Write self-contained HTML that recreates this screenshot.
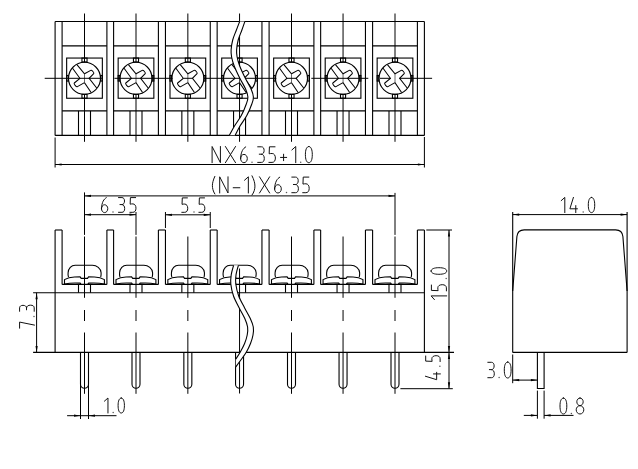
<!DOCTYPE html>
<html><head><meta charset="utf-8"><title>Terminal block drawing</title>
<style>
html,body{margin:0;padding:0;background:#fff;width:638px;height:469px;overflow:hidden;font-family:"Liberation Sans",sans-serif;}
svg{display:block;}
</style></head><body>
<svg width="638" height="469" viewBox="0 0 638 469">
<rect width="638" height="469" fill="#fff"/>
<line x1="55.1" y1="21.45" x2="424.4" y2="21.45" stroke="#000" stroke-width="1.1"/>
<line x1="55.1" y1="135.4" x2="424.4" y2="135.4" stroke="#000" stroke-width="1.1"/>
<line x1="55.1" y1="21.45" x2="55.1" y2="135.4" stroke="#000" stroke-width="1.1"/>
<line x1="424.4" y1="21.45" x2="424.4" y2="135.4" stroke="#000" stroke-width="1.1"/>
<line x1="62.1" y1="21.45" x2="62.1" y2="135.4" stroke="#000" stroke-width="1.1"/>
<line x1="106.9" y1="21.45" x2="106.9" y2="135.4" stroke="#000" stroke-width="1.1"/>
<line x1="62.1" y1="45.9" x2="106.9" y2="45.9" stroke="#000" stroke-width="1.1"/>
<line x1="62.1" y1="110.9" x2="106.9" y2="110.9" stroke="#000" stroke-width="1.1"/>
<rect x="66.65" y="58.05" width="35.7" height="40.2" fill="none" stroke="#000" stroke-width="1.1"/>
<rect x="81.95" y="58.05" width="5.1" height="3.9" fill="none" stroke="#000" stroke-width="1.1"/>
<rect x="81.95" y="94.35" width="5.1" height="3.9" fill="none" stroke="#000" stroke-width="1.1"/>
<rect x="66.65" y="75.5" width="1.6" height="5.6" fill="none" stroke="#000" stroke-width="1.1"/>
<rect x="100.75" y="75.5" width="1.6" height="5.6" fill="none" stroke="#000" stroke-width="1.1"/>
<line x1="78.5" y1="110.9" x2="78.5" y2="135.4" stroke="#000" stroke-width="1.1"/>
<line x1="90.5" y1="110.9" x2="90.5" y2="135.4" stroke="#000" stroke-width="1.1"/>
<line x1="113.6" y1="21.45" x2="113.6" y2="135.4" stroke="#000" stroke-width="1.1"/>
<line x1="158.4" y1="21.45" x2="158.4" y2="135.4" stroke="#000" stroke-width="1.1"/>
<line x1="113.6" y1="45.9" x2="158.4" y2="45.9" stroke="#000" stroke-width="1.1"/>
<line x1="113.6" y1="110.9" x2="158.4" y2="110.9" stroke="#000" stroke-width="1.1"/>
<rect x="118.15" y="58.05" width="35.7" height="40.2" fill="none" stroke="#000" stroke-width="1.1"/>
<rect x="133.45" y="58.05" width="5.1" height="3.9" fill="none" stroke="#000" stroke-width="1.1"/>
<rect x="133.45" y="94.35" width="5.1" height="3.9" fill="none" stroke="#000" stroke-width="1.1"/>
<rect x="118.15" y="75.5" width="1.6" height="5.6" fill="none" stroke="#000" stroke-width="1.1"/>
<rect x="152.25" y="75.5" width="1.6" height="5.6" fill="none" stroke="#000" stroke-width="1.1"/>
<line x1="130" y1="110.9" x2="130" y2="135.4" stroke="#000" stroke-width="1.1"/>
<line x1="142" y1="110.9" x2="142" y2="135.4" stroke="#000" stroke-width="1.1"/>
<line x1="165.45" y1="21.45" x2="165.45" y2="135.4" stroke="#000" stroke-width="1.1"/>
<line x1="210.25" y1="21.45" x2="210.25" y2="135.4" stroke="#000" stroke-width="1.1"/>
<line x1="165.45" y1="45.9" x2="210.25" y2="45.9" stroke="#000" stroke-width="1.1"/>
<line x1="165.45" y1="110.9" x2="210.25" y2="110.9" stroke="#000" stroke-width="1.1"/>
<rect x="170" y="58.05" width="35.7" height="40.2" fill="none" stroke="#000" stroke-width="1.1"/>
<rect x="185.3" y="58.05" width="5.1" height="3.9" fill="none" stroke="#000" stroke-width="1.1"/>
<rect x="185.3" y="94.35" width="5.1" height="3.9" fill="none" stroke="#000" stroke-width="1.1"/>
<rect x="170" y="75.5" width="1.6" height="5.6" fill="none" stroke="#000" stroke-width="1.1"/>
<rect x="204.1" y="75.5" width="1.6" height="5.6" fill="none" stroke="#000" stroke-width="1.1"/>
<line x1="181.85" y1="110.9" x2="181.85" y2="135.4" stroke="#000" stroke-width="1.1"/>
<line x1="193.85" y1="110.9" x2="193.85" y2="135.4" stroke="#000" stroke-width="1.1"/>
<line x1="217.15" y1="21.45" x2="217.15" y2="135.4" stroke="#000" stroke-width="1.1"/>
<line x1="261.95" y1="21.45" x2="261.95" y2="135.4" stroke="#000" stroke-width="1.1"/>
<line x1="217.15" y1="45.9" x2="261.95" y2="45.9" stroke="#000" stroke-width="1.1"/>
<line x1="217.15" y1="110.9" x2="261.95" y2="110.9" stroke="#000" stroke-width="1.1"/>
<rect x="221.7" y="58.05" width="35.7" height="40.2" fill="none" stroke="#000" stroke-width="1.1"/>
<rect x="237" y="58.05" width="5.1" height="3.9" fill="none" stroke="#000" stroke-width="1.1"/>
<rect x="237" y="94.35" width="5.1" height="3.9" fill="none" stroke="#000" stroke-width="1.1"/>
<rect x="221.7" y="75.5" width="1.6" height="5.6" fill="none" stroke="#000" stroke-width="1.1"/>
<rect x="255.8" y="75.5" width="1.6" height="5.6" fill="none" stroke="#000" stroke-width="1.1"/>
<line x1="233.55" y1="110.9" x2="233.55" y2="135.4" stroke="#000" stroke-width="1.1"/>
<line x1="245.55" y1="110.9" x2="245.55" y2="135.4" stroke="#000" stroke-width="1.1"/>
<line x1="269.1" y1="21.45" x2="269.1" y2="135.4" stroke="#000" stroke-width="1.1"/>
<line x1="313.9" y1="21.45" x2="313.9" y2="135.4" stroke="#000" stroke-width="1.1"/>
<line x1="269.1" y1="45.9" x2="313.9" y2="45.9" stroke="#000" stroke-width="1.1"/>
<line x1="269.1" y1="110.9" x2="313.9" y2="110.9" stroke="#000" stroke-width="1.1"/>
<rect x="273.65" y="58.05" width="35.7" height="40.2" fill="none" stroke="#000" stroke-width="1.1"/>
<rect x="288.95" y="58.05" width="5.1" height="3.9" fill="none" stroke="#000" stroke-width="1.1"/>
<rect x="288.95" y="94.35" width="5.1" height="3.9" fill="none" stroke="#000" stroke-width="1.1"/>
<rect x="273.65" y="75.5" width="1.6" height="5.6" fill="none" stroke="#000" stroke-width="1.1"/>
<rect x="307.75" y="75.5" width="1.6" height="5.6" fill="none" stroke="#000" stroke-width="1.1"/>
<line x1="285.5" y1="110.9" x2="285.5" y2="135.4" stroke="#000" stroke-width="1.1"/>
<line x1="297.5" y1="110.9" x2="297.5" y2="135.4" stroke="#000" stroke-width="1.1"/>
<line x1="320.65" y1="21.45" x2="320.65" y2="135.4" stroke="#000" stroke-width="1.1"/>
<line x1="365.45" y1="21.45" x2="365.45" y2="135.4" stroke="#000" stroke-width="1.1"/>
<line x1="320.65" y1="45.9" x2="365.45" y2="45.9" stroke="#000" stroke-width="1.1"/>
<line x1="320.65" y1="110.9" x2="365.45" y2="110.9" stroke="#000" stroke-width="1.1"/>
<rect x="325.2" y="58.05" width="35.7" height="40.2" fill="none" stroke="#000" stroke-width="1.1"/>
<rect x="340.5" y="58.05" width="5.1" height="3.9" fill="none" stroke="#000" stroke-width="1.1"/>
<rect x="340.5" y="94.35" width="5.1" height="3.9" fill="none" stroke="#000" stroke-width="1.1"/>
<rect x="325.2" y="75.5" width="1.6" height="5.6" fill="none" stroke="#000" stroke-width="1.1"/>
<rect x="359.3" y="75.5" width="1.6" height="5.6" fill="none" stroke="#000" stroke-width="1.1"/>
<line x1="337.05" y1="110.9" x2="337.05" y2="135.4" stroke="#000" stroke-width="1.1"/>
<line x1="349.05" y1="110.9" x2="349.05" y2="135.4" stroke="#000" stroke-width="1.1"/>
<line x1="372.6" y1="21.45" x2="372.6" y2="135.4" stroke="#000" stroke-width="1.1"/>
<line x1="417.4" y1="21.45" x2="417.4" y2="135.4" stroke="#000" stroke-width="1.1"/>
<line x1="372.6" y1="45.9" x2="417.4" y2="45.9" stroke="#000" stroke-width="1.1"/>
<line x1="372.6" y1="110.9" x2="417.4" y2="110.9" stroke="#000" stroke-width="1.1"/>
<rect x="377.15" y="58.05" width="35.7" height="40.2" fill="none" stroke="#000" stroke-width="1.1"/>
<rect x="392.45" y="58.05" width="5.1" height="3.9" fill="none" stroke="#000" stroke-width="1.1"/>
<rect x="392.45" y="94.35" width="5.1" height="3.9" fill="none" stroke="#000" stroke-width="1.1"/>
<rect x="377.15" y="75.5" width="1.6" height="5.6" fill="none" stroke="#000" stroke-width="1.1"/>
<rect x="411.25" y="75.5" width="1.6" height="5.6" fill="none" stroke="#000" stroke-width="1.1"/>
<line x1="389" y1="110.9" x2="389" y2="135.4" stroke="#000" stroke-width="1.1"/>
<line x1="401" y1="110.9" x2="401" y2="135.4" stroke="#000" stroke-width="1.1"/>
<line x1="84.5" y1="13.5" x2="84.5" y2="62.3" stroke="#000" stroke-width="1"/>
<line x1="84.5" y1="94.3" x2="84.5" y2="141.8" stroke="#000" stroke-width="1"/>
<line x1="136" y1="13.5" x2="136" y2="62.3" stroke="#000" stroke-width="1"/>
<line x1="136" y1="94.3" x2="136" y2="141.8" stroke="#000" stroke-width="1"/>
<line x1="187.85" y1="13.5" x2="187.85" y2="62.3" stroke="#000" stroke-width="1"/>
<line x1="187.85" y1="94.3" x2="187.85" y2="141.8" stroke="#000" stroke-width="1"/>
<line x1="239.55" y1="13.5" x2="239.55" y2="141.8" stroke="#000" stroke-width="1"/>
<line x1="291.5" y1="13.5" x2="291.5" y2="62.3" stroke="#000" stroke-width="1"/>
<line x1="291.5" y1="94.3" x2="291.5" y2="141.8" stroke="#000" stroke-width="1"/>
<line x1="343.05" y1="13.5" x2="343.05" y2="62.3" stroke="#000" stroke-width="1"/>
<line x1="343.05" y1="94.3" x2="343.05" y2="141.8" stroke="#000" stroke-width="1"/>
<line x1="395" y1="13.5" x2="395" y2="62.3" stroke="#000" stroke-width="1"/>
<line x1="395" y1="94.3" x2="395" y2="141.8" stroke="#000" stroke-width="1"/>
<circle cx="84.5" cy="78.3" r="16" fill="none" stroke="#000" stroke-width="1.1"/>
<path d="M72.58 68.24 L79.9 78.3 L74.3 83 C73.4 83.8 76.4 87.2 77.4 86.6 L84.5 82.6 L91.1 92.44" fill="none" stroke="#000" stroke-width="1.05"/>
<path d="M76.91 64.67 L84.5 73.8 L90.7 70.4 C91.75 69.8 94.55 72.85 93.7 73.7 L89.1 78.3 L96.7 88.02" fill="none" stroke="#000" stroke-width="1.05"/>
<path d="M84.5 73.8 L84.5 82.6" fill="none" stroke="#555" stroke-width="0.9"/>
<circle cx="136" cy="78.3" r="16" fill="none" stroke="#000" stroke-width="1.1"/>
<path d="M124.08 68.24 L131.4 78.3 L125.8 83 C124.9 83.8 127.9 87.2 128.9 86.6 L136 82.6 L142.6 92.44" fill="none" stroke="#000" stroke-width="1.05"/>
<path d="M128.41 64.67 L136 73.8 L142.2 70.4 C143.25 69.8 146.05 72.85 145.2 73.7 L140.6 78.3 L148.2 88.02" fill="none" stroke="#000" stroke-width="1.05"/>
<path d="M136 73.8 L136 82.6" fill="none" stroke="#555" stroke-width="0.9"/>
<circle cx="187.85" cy="78.3" r="16" fill="none" stroke="#000" stroke-width="1.1"/>
<path d="M175.93 68.24 L183.25 78.3 L177.65 83 C176.75 83.8 179.75 87.2 180.75 86.6 L187.85 82.6 L194.45 92.44" fill="none" stroke="#000" stroke-width="1.05"/>
<path d="M180.26 64.67 L187.85 73.8 L194.05 70.4 C195.1 69.8 197.9 72.85 197.05 73.7 L192.45 78.3 L200.05 88.02" fill="none" stroke="#000" stroke-width="1.05"/>
<path d="M187.85 73.8 L187.85 82.6" fill="none" stroke="#555" stroke-width="0.9"/>
<circle cx="239.55" cy="78.3" r="16" fill="none" stroke="#000" stroke-width="1.1"/>
<path d="M227.63 68.24 L234.95 78.3 L229.35 83 C228.45 83.8 231.45 87.2 232.45 86.6 L239.55 82.6 L246.15 92.44" fill="none" stroke="#000" stroke-width="1.05"/>
<path d="M231.96 64.67 L239.55 73.8 L245.75 70.4 C246.8 69.8 249.6 72.85 248.75 73.7 L244.15 78.3 L251.75 88.02" fill="none" stroke="#000" stroke-width="1.05"/>
<path d="M239.55 73.8 L239.55 82.6" fill="none" stroke="#555" stroke-width="0.9"/>
<circle cx="291.5" cy="78.3" r="16" fill="none" stroke="#000" stroke-width="1.1"/>
<path d="M279.58 68.24 L286.9 78.3 L281.3 83 C280.4 83.8 283.4 87.2 284.4 86.6 L291.5 82.6 L298.1 92.44" fill="none" stroke="#000" stroke-width="1.05"/>
<path d="M283.91 64.67 L291.5 73.8 L297.7 70.4 C298.75 69.8 301.55 72.85 300.7 73.7 L296.1 78.3 L303.7 88.02" fill="none" stroke="#000" stroke-width="1.05"/>
<path d="M291.5 73.8 L291.5 82.6" fill="none" stroke="#555" stroke-width="0.9"/>
<circle cx="343.05" cy="78.3" r="16" fill="none" stroke="#000" stroke-width="1.1"/>
<path d="M331.13 68.24 L338.45 78.3 L332.85 83 C331.95 83.8 334.95 87.2 335.95 86.6 L343.05 82.6 L349.65 92.44" fill="none" stroke="#000" stroke-width="1.05"/>
<path d="M335.46 64.67 L343.05 73.8 L349.25 70.4 C350.3 69.8 353.1 72.85 352.25 73.7 L347.65 78.3 L355.25 88.02" fill="none" stroke="#000" stroke-width="1.05"/>
<path d="M343.05 73.8 L343.05 82.6" fill="none" stroke="#555" stroke-width="0.9"/>
<circle cx="395" cy="78.3" r="16" fill="none" stroke="#000" stroke-width="1.1"/>
<path d="M383.08 68.24 L390.4 78.3 L384.8 83 C383.9 83.8 386.9 87.2 387.9 86.6 L395 82.6 L401.6 92.44" fill="none" stroke="#000" stroke-width="1.05"/>
<path d="M387.41 64.67 L395 73.8 L401.2 70.4 C402.25 69.8 405.05 72.85 404.2 73.7 L399.6 78.3 L407.2 88.02" fill="none" stroke="#000" stroke-width="1.05"/>
<path d="M395 73.8 L395 82.6" fill="none" stroke="#555" stroke-width="0.9"/>
<line x1="44.7" y1="78.3" x2="101.9" y2="78.3" stroke="#000" stroke-width="1"/>
<line x1="114.4" y1="78.3" x2="172.7" y2="78.3" stroke="#000" stroke-width="1"/>
<line x1="183.4" y1="78.3" x2="192.6" y2="78.3" stroke="#000" stroke-width="1"/>
<line x1="203.9" y1="78.3" x2="276.4" y2="78.3" stroke="#000" stroke-width="1"/>
<line x1="286.9" y1="78.3" x2="296.1" y2="78.3" stroke="#000" stroke-width="1"/>
<line x1="311.3" y1="78.3" x2="368.3" y2="78.3" stroke="#000" stroke-width="1"/>
<line x1="380" y1="78.3" x2="390.4" y2="78.3" stroke="#000" stroke-width="1"/>
<line x1="399.6" y1="78.3" x2="432.1" y2="78.3" stroke="#000" stroke-width="1"/>
<path d="M239.7 21.4C239.15 22.83 237.57 26.9 236.4 30C235.23 33.1 233.58 36.67 232.7 40C231.82 43.33 231.28 47.17 231.1 50C230.92 52.83 231.08 54.33 231.6 57C232.12 59.67 232.85 62.5 234.2 66C235.55 69.5 237.8 74.17 239.7 78C241.6 81.83 244.23 85.83 245.6 89C246.97 92.17 247.78 94.5 247.9 97C248.02 99.5 247.4 100.9 246.3 104C245.2 107.1 243.27 111.93 241.3 115.6C239.33 119.27 236.48 122.72 234.5 126C232.52 129.28 230.25 133.75 229.4 135.3L235.2 135.3C236 133.75 238.07 129.28 240 126C241.93 122.72 244.83 119.27 246.8 115.6C248.77 111.93 250.7 107.1 251.8 104C252.9 100.9 253.52 99.5 253.4 97C253.28 94.5 252.47 92.17 251.1 89C249.73 85.83 247.1 81.83 245.2 78C243.3 74.17 241.05 69.5 239.7 66C238.35 62.5 237.62 59.67 237.1 57C236.58 54.33 236.42 52.83 236.6 50C236.78 47.17 237.32 43.33 238.2 40C239.08 36.67 240.78 33.1 241.9 30C243.02 26.9 244.4 22.83 244.9 21.4Z" fill="#fff" stroke="none"/>
<path d="M239.7 21.4C239.15 22.83 237.57 26.9 236.4 30C235.23 33.1 233.58 36.67 232.7 40C231.82 43.33 231.28 47.17 231.1 50C230.92 52.83 231.08 54.33 231.6 57C232.12 59.67 232.85 62.5 234.2 66C235.55 69.5 237.8 74.17 239.7 78C241.6 81.83 244.23 85.83 245.6 89C246.97 92.17 247.78 94.5 247.9 97C248.02 99.5 247.4 100.9 246.3 104C245.2 107.1 243.27 111.93 241.3 115.6C239.33 119.27 236.48 122.72 234.5 126C232.52 129.28 230.25 133.75 229.4 135.3" fill="none" stroke="#000" stroke-width="1.1"/>
<path d="M244.9 21.4C244.4 22.83 243.02 26.9 241.9 30C240.78 33.1 239.08 36.67 238.2 40C237.32 43.33 236.78 47.17 236.6 50C236.42 52.83 236.58 54.33 237.1 57C237.62 59.67 238.35 62.5 239.7 66C241.05 69.5 243.3 74.17 245.2 78C247.1 81.83 249.73 85.83 251.1 89C252.47 92.17 253.28 94.5 253.4 97C253.52 99.5 252.9 100.9 251.8 104C250.7 107.1 248.77 111.93 246.8 115.6C244.83 119.27 241.93 122.72 240 126C238.07 129.28 236 133.75 235.2 135.3" fill="none" stroke="#000" stroke-width="1.1"/>
<line x1="55.1" y1="137.5" x2="55.1" y2="167.5" stroke="#000" stroke-width="1"/>
<line x1="424.4" y1="137" x2="424.4" y2="167.5" stroke="#000" stroke-width="1"/>
<line x1="55.1" y1="164.5" x2="424.4" y2="164.5" stroke="#000" stroke-width="1"/>
<path d="M55.1 164.5 L61.6 163.4 L61.6 165.6 Z" fill="#000"/>
<path d="M424.4 164.5 L417.9 165.6 L417.9 163.4 Z" fill="#000"/>
<path transform="translate(212.1 146.5) scale(0.9038 1.0125)" d="M0 16V0L9.2 16V0" fill="none" stroke="#111" stroke-width="1" vector-effect="non-scaling-stroke" stroke-linecap="round" stroke-linejoin="round"/>
<path transform="translate(225.4 146.5) scale(0.9216 1.0125)" d="M0 0L11 16M11 0L0 16" fill="none" stroke="#111" stroke-width="1" vector-effect="non-scaling-stroke" stroke-linecap="round" stroke-linejoin="round"/>
<path transform="translate(240.3 146.5) scale(0.8875 1.0125)" d="M6.1 0.4C3.2 1.8 0.7 5 0.4 11.4M0.3 11.9C0.3 9.6 2 7.8 4.1 7.8S7.9 9.6 7.9 11.9 6.2 16 4.1 16 0.3 14.2 0.3 11.9Z" fill="none" stroke="#111" stroke-width="1" vector-effect="non-scaling-stroke" stroke-linecap="round" stroke-linejoin="round"/>
<circle cx="252" cy="162.2" r="0.75" fill="#111" opacity="0.7"/>
<path transform="translate(257.7 146.5) scale(0.8792 1.0125)" d="M0 0.3H4.2C6.3 0.3 7.3 1.9 7.3 3.9 7.3 6 6.2 7.6 4.2 7.6H1.8M4.2 7.6C6.4 7.6 7.5 9.5 7.5 11.8 7.5 14.3 6.3 15.7 4.2 15.7H0" fill="none" stroke="#111" stroke-width="1" vector-effect="non-scaling-stroke" stroke-linecap="round" stroke-linejoin="round"/>
<path transform="translate(268.9 146.5) scale(0.8774 1.0125)" d="M7.0 0.3H0.6L0.3 7.2C1.4 6.9 2.6 6.9 3.7 6.9 6 6.9 7.4 8.9 7.4 11.4 7.4 14.2 5.9 15.7 3.6 15.7H0" fill="none" stroke="#111" stroke-width="1" vector-effect="non-scaling-stroke" stroke-linecap="round" stroke-linejoin="round"/>
<path transform="translate(280.2 146.5) scale(1.0125 1.0125)" d="M0.3 10.8H6.4M3.35 7.6V14.0" fill="none" stroke="#111" stroke-width="1" vector-effect="non-scaling-stroke" stroke-linecap="round" stroke-linejoin="round"/>
<path transform="translate(291.9 146.5) scale(1.0125 1.0125)" d="M0 3.4L3.8 0V16" fill="none" stroke="#111" stroke-width="1" vector-effect="non-scaling-stroke" stroke-linecap="round" stroke-linejoin="round"/>
<circle cx="300.7" cy="162.2" r="0.75" fill="#111" opacity="0.7"/>
<path transform="translate(305.4 146.5) scale(0.8843 1.0125)" d="M3.9 0C6.5 0 7.8 3.2 7.8 8S6.5 16 3.9 16 0 12.8 0 8 1.3 0 3.9 0Z" fill="none" stroke="#111" stroke-width="1" vector-effect="non-scaling-stroke" stroke-linecap="round" stroke-linejoin="round"/>
<line x1="84.5" y1="195.9" x2="395" y2="195.9" stroke="#000" stroke-width="1"/>
<path d="M84.5 195.9 L91 194.8 L91 197 Z" fill="#000"/>
<path d="M395 195.9 L388.5 197 L388.5 194.8 Z" fill="#000"/>
<path transform="translate(212 176.8) scale(1.0125 1.0125)" d="M2.8 -0.4C1.0 3.5 0.4 6.5 0.4 8.8S1.0 14.2 2.8 17.0" fill="none" stroke="#111" stroke-width="1" vector-effect="non-scaling-stroke" stroke-linecap="round" stroke-linejoin="round"/>
<path transform="translate(219.7 176.8) scale(0.9038 1.0125)" d="M0 16V0L9.2 16V0" fill="none" stroke="#111" stroke-width="1" vector-effect="non-scaling-stroke" stroke-linecap="round" stroke-linejoin="round"/>
<path transform="translate(233.2 176.8) scale(1.0125 1.0125)" d="M0 10.8H6.6" fill="none" stroke="#111" stroke-width="1" vector-effect="non-scaling-stroke" stroke-linecap="round" stroke-linejoin="round"/>
<path transform="translate(244.5 176.8) scale(1.0125 1.0125)" d="M0 3.4L3.8 0V16" fill="none" stroke="#111" stroke-width="1" vector-effect="non-scaling-stroke" stroke-linecap="round" stroke-linejoin="round"/>
<path transform="translate(252 176.8) scale(1.0125 1.0125)" d="M0 -1C2.1 3 2.9 6.5 2.9 9.2S2.1 15.4 0 18" fill="none" stroke="#111" stroke-width="1" vector-effect="non-scaling-stroke" stroke-linecap="round" stroke-linejoin="round"/>
<path transform="translate(259.5 176.8) scale(0.9216 1.0125)" d="M0 0L11 16M11 0L0 16" fill="none" stroke="#111" stroke-width="1" vector-effect="non-scaling-stroke" stroke-linecap="round" stroke-linejoin="round"/>
<path transform="translate(274.3 176.8) scale(0.8875 1.0125)" d="M6.1 0.4C3.2 1.8 0.7 5 0.4 11.4M0.3 11.9C0.3 9.6 2 7.8 4.1 7.8S7.9 9.6 7.9 11.9 6.2 16 4.1 16 0.3 14.2 0.3 11.9Z" fill="none" stroke="#111" stroke-width="1" vector-effect="non-scaling-stroke" stroke-linecap="round" stroke-linejoin="round"/>
<circle cx="286.5" cy="192.5" r="0.75" fill="#111" opacity="0.7"/>
<path transform="translate(291.8 176.8) scale(0.8792 1.0125)" d="M0 0.3H4.2C6.3 0.3 7.3 1.9 7.3 3.9 7.3 6 6.2 7.6 4.2 7.6H1.8M4.2 7.6C6.4 7.6 7.5 9.5 7.5 11.8 7.5 14.3 6.3 15.7 4.2 15.7H0" fill="none" stroke="#111" stroke-width="1" vector-effect="non-scaling-stroke" stroke-linecap="round" stroke-linejoin="round"/>
<path transform="translate(302.7 176.8) scale(0.8774 1.0125)" d="M7.0 0.3H0.6L0.3 7.2C1.4 6.9 2.6 6.9 3.7 6.9 6 6.9 7.4 8.9 7.4 11.4 7.4 14.2 5.9 15.7 3.6 15.7H0" fill="none" stroke="#111" stroke-width="1" vector-effect="non-scaling-stroke" stroke-linecap="round" stroke-linejoin="round"/>
<line x1="84.5" y1="214.7" x2="136" y2="214.7" stroke="#000" stroke-width="1"/>
<path d="M84.5 214.7 L91 213.6 L91 215.8 Z" fill="#000"/>
<path d="M136 214.7 L129.5 215.8 L129.5 213.6 Z" fill="#000"/>
<path transform="translate(101.2 197.3) scale(0.8313 0.9563)" d="M6.1 0.4C3.2 1.8 0.7 5 0.4 11.4M0.3 11.9C0.3 9.6 2 7.8 4.1 7.8S7.9 9.6 7.9 11.9 6.2 16 4.1 16 0.3 14.2 0.3 11.9Z" fill="none" stroke="#111" stroke-width="1" vector-effect="non-scaling-stroke" stroke-linecap="round" stroke-linejoin="round"/>
<circle cx="113" cy="212.1" r="0.75" fill="#111" opacity="0.7"/>
<path transform="translate(118.5 197.3) scale(0.8229 0.9563)" d="M0 0.3H4.2C6.3 0.3 7.3 1.9 7.3 3.9 7.3 6 6.2 7.6 4.2 7.6H1.8M4.2 7.6C6.4 7.6 7.5 9.5 7.5 11.8 7.5 14.3 6.3 15.7 4.2 15.7H0" fill="none" stroke="#111" stroke-width="1" vector-effect="non-scaling-stroke" stroke-linecap="round" stroke-linejoin="round"/>
<path transform="translate(129.9 197.3) scale(0.8211 0.9563)" d="M7.0 0.3H0.6L0.3 7.2C1.4 6.9 2.6 6.9 3.7 6.9 6 6.9 7.4 8.9 7.4 11.4 7.4 14.2 5.9 15.7 3.6 15.7H0" fill="none" stroke="#111" stroke-width="1" vector-effect="non-scaling-stroke" stroke-linecap="round" stroke-linejoin="round"/>
<line x1="165.45" y1="212" x2="165.45" y2="228" stroke="#000" stroke-width="1"/>
<line x1="210.25" y1="212" x2="210.25" y2="228" stroke="#000" stroke-width="1"/>
<line x1="165.45" y1="214.8" x2="210.25" y2="214.8" stroke="#000" stroke-width="1"/>
<path d="M165.45 214.8 L171.95 213.7 L171.95 215.9 Z" fill="#000"/>
<path d="M210.25 214.8 L203.75 215.9 L203.75 213.7 Z" fill="#000"/>
<path transform="translate(181.8 197.6) scale(0.8024 0.9375)" d="M7.0 0.3H0.6L0.3 7.2C1.4 6.9 2.6 6.9 3.7 6.9 6 6.9 7.4 8.9 7.4 11.4 7.4 14.2 5.9 15.7 3.6 15.7H0" fill="none" stroke="#111" stroke-width="1" vector-effect="non-scaling-stroke" stroke-linecap="round" stroke-linejoin="round"/>
<circle cx="194" cy="212.1" r="0.75" fill="#111" opacity="0.7"/>
<path transform="translate(198.9 197.6) scale(0.8024 0.9375)" d="M7.0 0.3H0.6L0.3 7.2C1.4 6.9 2.6 6.9 3.7 6.9 6 6.9 7.4 8.9 7.4 11.4 7.4 14.2 5.9 15.7 3.6 15.7H0" fill="none" stroke="#111" stroke-width="1" vector-effect="non-scaling-stroke" stroke-linecap="round" stroke-linejoin="round"/>
<line x1="55.1" y1="230" x2="55.1" y2="352.4" stroke="#000" stroke-width="1.1"/>
<line x1="424.4" y1="230" x2="424.4" y2="352.4" stroke="#000" stroke-width="1.1"/>
<line x1="55.1" y1="230" x2="62.1" y2="230" stroke="#000" stroke-width="1.1"/>
<line x1="417.4" y1="230" x2="424.4" y2="230" stroke="#000" stroke-width="1.1"/>
<line x1="106.9" y1="230" x2="113.6" y2="230" stroke="#000" stroke-width="1.1"/>
<line x1="158.4" y1="230" x2="165.45" y2="230" stroke="#000" stroke-width="1.1"/>
<line x1="210.25" y1="230" x2="217.15" y2="230" stroke="#000" stroke-width="1.1"/>
<line x1="261.95" y1="230" x2="269.1" y2="230" stroke="#000" stroke-width="1.1"/>
<line x1="313.9" y1="230" x2="320.65" y2="230" stroke="#000" stroke-width="1.1"/>
<line x1="365.45" y1="230" x2="372.6" y2="230" stroke="#000" stroke-width="1.1"/>
<line x1="62.1" y1="230" x2="62.1" y2="284.4" stroke="#000" stroke-width="1.1"/>
<line x1="106.9" y1="230" x2="106.9" y2="284.4" stroke="#000" stroke-width="1.1"/>
<line x1="62.1" y1="284.4" x2="106.9" y2="284.4" stroke="#000" stroke-width="1.1"/>
<line x1="78.5" y1="284.4" x2="78.5" y2="292.7" stroke="#000" stroke-width="1.1"/>
<line x1="90.5" y1="284.4" x2="90.5" y2="292.7" stroke="#000" stroke-width="1.1"/>
<path d="M64.5 283.9 L64.5 279.6 Q68.5 277.2 74.5 277 L80.1 276.9 L81.2 278.4 L87.5 278.4 L88.6 276.9 L94.5 277 Q100.5 277.2 104.4 279.6 L104.4 283.9" fill="none" stroke="#000" stroke-width="1.1"/>
<path d="M64.5 284 Q71.5 282.6 80.1 283.2 L80.9 284.2 M87.9 284.2 L88.7 283.2 Q97.5 282.6 104.4 284" fill="none" stroke="#000" stroke-width="1.2"/>
<path d="M68.5 277 C68 275.5 67.9 274.2 68.1 272.8 C68.3 268.5 71.3 265.2 75.2 265.2 L92.4 265.2 C96.7 265.2 100.9 268.5 101.1 272.8 C101.2 274.2 101.1 275.5 100.7 277" fill="none" stroke="#000" stroke-width="1.1"/>
<path d="M80.5 352.4 L80.5 384.3 A4 4 0 0 0 88.5 384.3 L88.5 352.4" fill="none" stroke="#000" stroke-width="1.1"/>
<line x1="113.6" y1="230" x2="113.6" y2="284.4" stroke="#000" stroke-width="1.1"/>
<line x1="158.4" y1="230" x2="158.4" y2="284.4" stroke="#000" stroke-width="1.1"/>
<line x1="113.6" y1="284.4" x2="158.4" y2="284.4" stroke="#000" stroke-width="1.1"/>
<line x1="130" y1="284.4" x2="130" y2="292.7" stroke="#000" stroke-width="1.1"/>
<line x1="142" y1="284.4" x2="142" y2="292.7" stroke="#000" stroke-width="1.1"/>
<path d="M116 283.9 L116 279.6 Q120 277.2 126 277 L131.6 276.9 L132.7 278.4 L139 278.4 L140.1 276.9 L146 277 Q152 277.2 155.9 279.6 L155.9 283.9" fill="none" stroke="#000" stroke-width="1.1"/>
<path d="M116 284 Q123 282.6 131.6 283.2 L132.4 284.2 M139.4 284.2 L140.2 283.2 Q149 282.6 155.9 284" fill="none" stroke="#000" stroke-width="1.2"/>
<path d="M120 277 C119.5 275.5 119.4 274.2 119.6 272.8 C119.8 268.5 122.8 265.2 126.7 265.2 L143.9 265.2 C148.2 265.2 152.4 268.5 152.6 272.8 C152.7 274.2 152.6 275.5 152.2 277" fill="none" stroke="#000" stroke-width="1.1"/>
<path d="M132 352.4 L132 384.3 A4 4 0 0 0 140 384.3 L140 352.4" fill="none" stroke="#000" stroke-width="1.1"/>
<line x1="165.45" y1="230" x2="165.45" y2="284.4" stroke="#000" stroke-width="1.1"/>
<line x1="210.25" y1="230" x2="210.25" y2="284.4" stroke="#000" stroke-width="1.1"/>
<line x1="165.45" y1="284.4" x2="210.25" y2="284.4" stroke="#000" stroke-width="1.1"/>
<line x1="181.85" y1="284.4" x2="181.85" y2="292.7" stroke="#000" stroke-width="1.1"/>
<line x1="193.85" y1="284.4" x2="193.85" y2="292.7" stroke="#000" stroke-width="1.1"/>
<path d="M167.85 283.9 L167.85 279.6 Q171.85 277.2 177.85 277 L183.45 276.9 L184.55 278.4 L190.85 278.4 L191.95 276.9 L197.85 277 Q203.85 277.2 207.75 279.6 L207.75 283.9" fill="none" stroke="#000" stroke-width="1.1"/>
<path d="M167.85 284 Q174.85 282.6 183.45 283.2 L184.25 284.2 M191.25 284.2 L192.05 283.2 Q200.85 282.6 207.75 284" fill="none" stroke="#000" stroke-width="1.2"/>
<path d="M171.85 277 C171.35 275.5 171.25 274.2 171.45 272.8 C171.65 268.5 174.65 265.2 178.55 265.2 L195.75 265.2 C200.05 265.2 204.25 268.5 204.45 272.8 C204.55 274.2 204.45 275.5 204.05 277" fill="none" stroke="#000" stroke-width="1.1"/>
<path d="M183.85 352.4 L183.85 384.3 A4 4 0 0 0 191.85 384.3 L191.85 352.4" fill="none" stroke="#000" stroke-width="1.1"/>
<line x1="217.15" y1="230" x2="217.15" y2="284.4" stroke="#000" stroke-width="1.1"/>
<line x1="261.95" y1="230" x2="261.95" y2="284.4" stroke="#000" stroke-width="1.1"/>
<line x1="217.15" y1="284.4" x2="261.95" y2="284.4" stroke="#000" stroke-width="1.1"/>
<line x1="233.55" y1="284.4" x2="233.55" y2="292.7" stroke="#000" stroke-width="1.1"/>
<line x1="245.55" y1="284.4" x2="245.55" y2="292.7" stroke="#000" stroke-width="1.1"/>
<path d="M219.55 283.9 L219.55 279.6 Q223.55 277.2 229.55 277 L235.15 276.9 L236.25 278.4 L242.55 278.4 L243.65 276.9 L249.55 277 Q255.55 277.2 259.45 279.6 L259.45 283.9" fill="none" stroke="#000" stroke-width="1.1"/>
<path d="M219.55 284 Q226.55 282.6 235.15 283.2 L235.95 284.2 M242.95 284.2 L243.75 283.2 Q252.55 282.6 259.45 284" fill="none" stroke="#000" stroke-width="1.2"/>
<path d="M223.55 277 C223.05 275.5 222.95 274.2 223.15 272.8 C223.35 268.5 226.35 265.2 230.25 265.2 L247.45 265.2 C251.75 265.2 255.95 268.5 256.15 272.8 C256.25 274.2 256.15 275.5 255.75 277" fill="none" stroke="#000" stroke-width="1.1"/>
<path d="M235.55 352.4 L235.55 384.3 A4 4 0 0 0 243.55 384.3 L243.55 352.4" fill="none" stroke="#000" stroke-width="1.1"/>
<line x1="269.1" y1="230" x2="269.1" y2="284.4" stroke="#000" stroke-width="1.1"/>
<line x1="313.9" y1="230" x2="313.9" y2="284.4" stroke="#000" stroke-width="1.1"/>
<line x1="269.1" y1="284.4" x2="313.9" y2="284.4" stroke="#000" stroke-width="1.1"/>
<line x1="285.5" y1="284.4" x2="285.5" y2="292.7" stroke="#000" stroke-width="1.1"/>
<line x1="297.5" y1="284.4" x2="297.5" y2="292.7" stroke="#000" stroke-width="1.1"/>
<path d="M271.5 283.9 L271.5 279.6 Q275.5 277.2 281.5 277 L287.1 276.9 L288.2 278.4 L294.5 278.4 L295.6 276.9 L301.5 277 Q307.5 277.2 311.4 279.6 L311.4 283.9" fill="none" stroke="#000" stroke-width="1.1"/>
<path d="M271.5 284 Q278.5 282.6 287.1 283.2 L287.9 284.2 M294.9 284.2 L295.7 283.2 Q304.5 282.6 311.4 284" fill="none" stroke="#000" stroke-width="1.2"/>
<path d="M275.5 277 C275 275.5 274.9 274.2 275.1 272.8 C275.3 268.5 278.3 265.2 282.2 265.2 L299.4 265.2 C303.7 265.2 307.9 268.5 308.1 272.8 C308.2 274.2 308.1 275.5 307.7 277" fill="none" stroke="#000" stroke-width="1.1"/>
<path d="M287.5 352.4 L287.5 384.3 A4 4 0 0 0 295.5 384.3 L295.5 352.4" fill="none" stroke="#000" stroke-width="1.1"/>
<line x1="320.65" y1="230" x2="320.65" y2="284.4" stroke="#000" stroke-width="1.1"/>
<line x1="365.45" y1="230" x2="365.45" y2="284.4" stroke="#000" stroke-width="1.1"/>
<line x1="320.65" y1="284.4" x2="365.45" y2="284.4" stroke="#000" stroke-width="1.1"/>
<line x1="337.05" y1="284.4" x2="337.05" y2="292.7" stroke="#000" stroke-width="1.1"/>
<line x1="349.05" y1="284.4" x2="349.05" y2="292.7" stroke="#000" stroke-width="1.1"/>
<path d="M323.05 283.9 L323.05 279.6 Q327.05 277.2 333.05 277 L338.65 276.9 L339.75 278.4 L346.05 278.4 L347.15 276.9 L353.05 277 Q359.05 277.2 362.95 279.6 L362.95 283.9" fill="none" stroke="#000" stroke-width="1.1"/>
<path d="M323.05 284 Q330.05 282.6 338.65 283.2 L339.45 284.2 M346.45 284.2 L347.25 283.2 Q356.05 282.6 362.95 284" fill="none" stroke="#000" stroke-width="1.2"/>
<path d="M327.05 277 C326.55 275.5 326.45 274.2 326.65 272.8 C326.85 268.5 329.85 265.2 333.75 265.2 L350.95 265.2 C355.25 265.2 359.45 268.5 359.65 272.8 C359.75 274.2 359.65 275.5 359.25 277" fill="none" stroke="#000" stroke-width="1.1"/>
<path d="M339.05 352.4 L339.05 384.3 A4 4 0 0 0 347.05 384.3 L347.05 352.4" fill="none" stroke="#000" stroke-width="1.1"/>
<line x1="372.6" y1="230" x2="372.6" y2="284.4" stroke="#000" stroke-width="1.1"/>
<line x1="417.4" y1="230" x2="417.4" y2="284.4" stroke="#000" stroke-width="1.1"/>
<line x1="372.6" y1="284.4" x2="417.4" y2="284.4" stroke="#000" stroke-width="1.1"/>
<line x1="389" y1="284.4" x2="389" y2="292.7" stroke="#000" stroke-width="1.1"/>
<line x1="401" y1="284.4" x2="401" y2="292.7" stroke="#000" stroke-width="1.1"/>
<path d="M375 283.9 L375 279.6 Q379 277.2 385 277 L390.6 276.9 L391.7 278.4 L398 278.4 L399.1 276.9 L405 277 Q411 277.2 414.9 279.6 L414.9 283.9" fill="none" stroke="#000" stroke-width="1.1"/>
<path d="M375 284 Q382 282.6 390.6 283.2 L391.4 284.2 M398.4 284.2 L399.2 283.2 Q408 282.6 414.9 284" fill="none" stroke="#000" stroke-width="1.2"/>
<path d="M379 277 C378.5 275.5 378.4 274.2 378.6 272.8 C378.8 268.5 381.8 265.2 385.7 265.2 L402.9 265.2 C407.2 265.2 411.4 268.5 411.6 272.8 C411.7 274.2 411.6 275.5 411.2 277" fill="none" stroke="#000" stroke-width="1.1"/>
<path d="M391 352.4 L391 384.3 A4 4 0 0 0 399 384.3 L399 352.4" fill="none" stroke="#000" stroke-width="1.1"/>
<line x1="33.1" y1="292.7" x2="424.4" y2="292.7" stroke="#000" stroke-width="1.1"/>
<line x1="33.1" y1="352.4" x2="454" y2="352.4" stroke="#000" stroke-width="1.1"/>
<line x1="84.5" y1="192.4" x2="84.5" y2="234.9" stroke="#000" stroke-width="1"/>
<line x1="84.5" y1="236.5" x2="84.5" y2="297.8" stroke="#000" stroke-width="1"/>
<line x1="84.5" y1="310" x2="84.5" y2="321" stroke="#000" stroke-width="1"/>
<line x1="84.5" y1="332.5" x2="84.5" y2="393.8" stroke="#000" stroke-width="1"/>
<line x1="136" y1="212" x2="136" y2="234.9" stroke="#000" stroke-width="1"/>
<line x1="136" y1="236.5" x2="136" y2="297.8" stroke="#000" stroke-width="1"/>
<line x1="136" y1="310" x2="136" y2="321" stroke="#000" stroke-width="1"/>
<line x1="136" y1="332.5" x2="136" y2="393.8" stroke="#000" stroke-width="1"/>
<line x1="187.85" y1="236.5" x2="187.85" y2="297.8" stroke="#000" stroke-width="1"/>
<line x1="187.85" y1="310" x2="187.85" y2="321" stroke="#000" stroke-width="1"/>
<line x1="187.85" y1="332.5" x2="187.85" y2="393.8" stroke="#000" stroke-width="1"/>
<line x1="291.5" y1="236.5" x2="291.5" y2="297.8" stroke="#000" stroke-width="1"/>
<line x1="291.5" y1="310" x2="291.5" y2="321" stroke="#000" stroke-width="1"/>
<line x1="291.5" y1="332.5" x2="291.5" y2="393.8" stroke="#000" stroke-width="1"/>
<line x1="343.05" y1="236.5" x2="343.05" y2="297.8" stroke="#000" stroke-width="1"/>
<line x1="343.05" y1="310" x2="343.05" y2="321" stroke="#000" stroke-width="1"/>
<line x1="343.05" y1="332.5" x2="343.05" y2="393.8" stroke="#000" stroke-width="1"/>
<line x1="395" y1="192.9" x2="395" y2="234.9" stroke="#000" stroke-width="1"/>
<line x1="395" y1="236.5" x2="395" y2="297.8" stroke="#000" stroke-width="1"/>
<line x1="395" y1="310" x2="395" y2="321" stroke="#000" stroke-width="1"/>
<line x1="395" y1="332.5" x2="395" y2="393.8" stroke="#000" stroke-width="1"/>
<line x1="239.55" y1="268.5" x2="239.55" y2="393.5" stroke="#000" stroke-width="1"/>
<path d="M233.6 265.3C233.2 266.92 231.67 271.88 231.2 275C230.73 278.12 230.42 280.5 230.8 284C231.18 287.5 232.12 292.05 233.5 296C234.88 299.95 237.22 303.95 239.1 307.7C240.98 311.45 243.38 315.28 244.8 318.5C246.22 321.72 247.2 324.25 247.6 327C248 329.75 247.7 332.25 247.2 335C246.7 337.75 245.75 340.67 244.6 343.5C243.45 346.33 241.78 349.38 240.3 352C238.83 354.62 236.51 358 235.75 359.2L235.75 366.9C236.66 365.67 239.42 361.98 241.2 359.5C242.97 357.02 244.85 354.67 246.4 352C247.95 349.33 249.4 346.33 250.5 343.5C251.6 340.67 252.53 337.75 253 335C253.47 332.25 253.75 329.75 253.3 327C252.85 324.25 251.77 321.72 250.3 318.5C248.83 315.28 246.43 311.45 244.5 307.7C242.57 303.95 240.15 299.95 238.7 296C237.25 292.05 236.25 287.5 235.8 284C235.35 280.5 235.57 278.12 236 275C236.43 271.88 238 266.92 238.4 265.3Z" fill="#fff" stroke="none"/>
<path d="M233.6 265.3C233.2 266.92 231.67 271.88 231.2 275C230.73 278.12 230.42 280.5 230.8 284C231.18 287.5 232.12 292.05 233.5 296C234.88 299.95 237.22 303.95 239.1 307.7C240.98 311.45 243.38 315.28 244.8 318.5C246.22 321.72 247.2 324.25 247.6 327C248 329.75 247.7 332.25 247.2 335C246.7 337.75 245.75 340.67 244.6 343.5C243.45 346.33 241.78 349.38 240.3 352C238.83 354.62 236.51 358 235.75 359.2" fill="none" stroke="#000" stroke-width="1.1"/>
<path d="M238.4 265.3C238 266.92 236.43 271.88 236 275C235.57 278.12 235.35 280.5 235.8 284C236.25 287.5 237.25 292.05 238.7 296C240.15 299.95 242.57 303.95 244.5 307.7C246.43 311.45 248.83 315.28 250.3 318.5C251.77 321.72 252.85 324.25 253.3 327C253.75 329.75 253.47 332.25 253 335C252.53 337.75 251.6 340.67 250.5 343.5C249.4 346.33 247.95 349.33 246.4 352C244.85 354.67 242.97 357.02 241.2 359.5C239.42 361.98 236.66 365.67 235.75 366.9" fill="none" stroke="#000" stroke-width="1.1"/>
<line x1="36.6" y1="292.7" x2="36.6" y2="352.4" stroke="#000" stroke-width="1"/>
<path d="M36.6 292.7 L37.7 299.2 L35.5 299.2 Z" fill="#000"/>
<path d="M36.6 352.4 L35.5 345.9 L37.7 345.9 Z" fill="#000"/>
<path transform="translate(19.3 328.2) rotate(-90) scale(0.8167 0.9500)" d="M0 0.3H7.5L3.8 16" fill="none" stroke="#111" stroke-width="1" vector-effect="non-scaling-stroke" stroke-linecap="round" stroke-linejoin="round"/>
<circle cx="34" cy="316.4" r="0.75" fill="#111" opacity="0.7"/>
<path transform="translate(19.3 311.3) rotate(-90) scale(0.8167 0.9500)" d="M0 0.3H4.2C6.3 0.3 7.3 1.9 7.3 3.9 7.3 6 6.2 7.6 4.2 7.6H1.8M4.2 7.6C6.4 7.6 7.5 9.5 7.5 11.8 7.5 14.3 6.3 15.7 4.2 15.7H0" fill="none" stroke="#111" stroke-width="1" vector-effect="non-scaling-stroke" stroke-linecap="round" stroke-linejoin="round"/>
<line x1="426.3" y1="230" x2="452" y2="230" stroke="#000" stroke-width="1"/>
<line x1="449" y1="230" x2="449" y2="388.7" stroke="#000" stroke-width="1"/>
<path d="M449 230 L450.1 236.5 L447.9 236.5 Z" fill="#000"/>
<path d="M449 352.4 L447.9 345.9 L450.1 345.9 Z" fill="#000"/>
<path d="M449 352.4 L450.1 358.9 L447.9 358.9 Z" fill="#000"/>
<path d="M449 388.7 L447.9 382.2 L450.1 382.2 Z" fill="#000"/>
<line x1="400.4" y1="388.7" x2="452.8" y2="388.7" stroke="#000" stroke-width="1"/>
<path transform="translate(431.1 299.6) rotate(-90) scale(0.9750 0.9750)" d="M0 3.4L3.8 0V16" fill="none" stroke="#111" stroke-width="1" vector-effect="non-scaling-stroke" stroke-linecap="round" stroke-linejoin="round"/>
<path transform="translate(431.1 290.9) rotate(-90) scale(0.8399 0.9750)" d="M7.0 0.3H0.6L0.3 7.2C1.4 6.9 2.6 6.9 3.7 6.9 6 6.9 7.4 8.9 7.4 11.4 7.4 14.2 5.9 15.7 3.6 15.7H0" fill="none" stroke="#111" stroke-width="1" vector-effect="non-scaling-stroke" stroke-linecap="round" stroke-linejoin="round"/>
<circle cx="446.2" cy="278.5" r="0.75" fill="#111" opacity="0.7"/>
<path transform="translate(431.1 274.3) rotate(-90) scale(0.8468 0.9750)" d="M3.9 0C6.5 0 7.8 3.2 7.8 8S6.5 16 3.9 16 0 12.8 0 8 1.3 0 3.9 0Z" fill="none" stroke="#111" stroke-width="1" vector-effect="non-scaling-stroke" stroke-linecap="round" stroke-linejoin="round"/>
<path transform="translate(425.4 379.7) rotate(-90) scale(0.8264 0.9375)" d="M4.2 0L0 12H9M7 8.6V16" fill="none" stroke="#111" stroke-width="1" vector-effect="non-scaling-stroke" stroke-linecap="round" stroke-linejoin="round"/>
<circle cx="439.9" cy="366.3" r="0.75" fill="#111" opacity="0.7"/>
<path transform="translate(425.4 361.6) rotate(-90) scale(0.8024 0.9375)" d="M7.0 0.3H0.6L0.3 7.2C1.4 6.9 2.6 6.9 3.7 6.9 6 6.9 7.4 8.9 7.4 11.4 7.4 14.2 5.9 15.7 3.6 15.7H0" fill="none" stroke="#111" stroke-width="1" vector-effect="non-scaling-stroke" stroke-linecap="round" stroke-linejoin="round"/>
<line x1="80.5" y1="384.3" x2="80.5" y2="419" stroke="#000" stroke-width="1"/>
<line x1="88.5" y1="384.3" x2="88.5" y2="419" stroke="#000" stroke-width="1"/>
<line x1="67.1" y1="415.7" x2="116.5" y2="415.7" stroke="#000" stroke-width="1"/>
<path d="M80.5 415.7 L74 416.8 L74 414.6 Z" fill="#000"/>
<path d="M88.5 415.7 L95 414.6 L95 416.8 Z" fill="#000"/>
<path transform="translate(104.4 398) scale(0.9375 0.9375)" d="M0 3.4L3.8 0V16" fill="none" stroke="#111" stroke-width="1" vector-effect="non-scaling-stroke" stroke-linecap="round" stroke-linejoin="round"/>
<circle cx="113.2" cy="412.5" r="0.75" fill="#111" opacity="0.7"/>
<path transform="translate(118.1 398) scale(0.8093 0.9375)" d="M3.9 0C6.5 0 7.8 3.2 7.8 8S6.5 16 3.9 16 0 12.8 0 8 1.3 0 3.9 0Z" fill="none" stroke="#111" stroke-width="1" vector-effect="non-scaling-stroke" stroke-linecap="round" stroke-linejoin="round"/>
<line x1="512.7" y1="211.9" x2="512.7" y2="352.4" stroke="#000" stroke-width="1.1"/>
<line x1="627.1" y1="211.9" x2="627.1" y2="352.4" stroke="#000" stroke-width="1.1"/>
<line x1="512.7" y1="352.4" x2="627.1" y2="352.4" stroke="#000" stroke-width="1.1"/>
<path d="M512.7 291 L516.9 236.5 Q517.6 229.9 524.2 229.9 L615.6 229.9 Q622.2 229.9 622.9 236.5 L627.1 291" fill="none" stroke="#000" stroke-width="1.1"/>
<line x1="512.7" y1="214.6" x2="627.1" y2="214.6" stroke="#000" stroke-width="1"/>
<path d="M512.7 214.6 L519.2 213.5 L519.2 215.7 Z" fill="#000"/>
<path d="M627.1 214.6 L620.6 215.7 L620.6 213.5 Z" fill="#000"/>
<path transform="translate(561.2 197.4) scale(0.9500 0.9500)" d="M0 3.4L3.8 0V16" fill="none" stroke="#111" stroke-width="1" vector-effect="non-scaling-stroke" stroke-linecap="round" stroke-linejoin="round"/>
<path transform="translate(569.9 197.4) scale(0.8389 0.9500)" d="M4.2 0L0 12H9M7 8.6V16" fill="none" stroke="#111" stroke-width="1" vector-effect="non-scaling-stroke" stroke-linecap="round" stroke-linejoin="round"/>
<circle cx="583.2" cy="212.1" r="0.75" fill="#111" opacity="0.7"/>
<path transform="translate(588.3 197.4) scale(0.8218 0.9500)" d="M3.9 0C6.5 0 7.8 3.2 7.8 8S6.5 16 3.9 16 0 12.8 0 8 1.3 0 3.9 0Z" fill="none" stroke="#111" stroke-width="1" vector-effect="non-scaling-stroke" stroke-linecap="round" stroke-linejoin="round"/>
<path d="M537.4 352.4 L537.4 388.5 L544.1 388.5 L544.1 352.4" fill="none" stroke="#000" stroke-width="1.1"/>
<line x1="512.7" y1="354.5" x2="512.7" y2="383.2" stroke="#000" stroke-width="1"/>
<line x1="512.7" y1="380.1" x2="537.4" y2="380.1" stroke="#000" stroke-width="1"/>
<path d="M512.7 380.1 L519.2 379 L519.2 381.2 Z" fill="#000"/>
<path d="M537.4 380.1 L530.9 381.2 L530.9 379 Z" fill="#000"/>
<path transform="translate(487.8 362) scale(0.8667 1.0000)" d="M0 0.3H4.2C6.3 0.3 7.3 1.9 7.3 3.9 7.3 6 6.2 7.6 4.2 7.6H1.8M4.2 7.6C6.4 7.6 7.5 9.5 7.5 11.8 7.5 14.3 6.3 15.7 4.2 15.7H0" fill="none" stroke="#111" stroke-width="1" vector-effect="non-scaling-stroke" stroke-linecap="round" stroke-linejoin="round"/>
<circle cx="499.1" cy="377.5" r="0.75" fill="#111" opacity="0.7"/>
<path transform="translate(504.3 362) scale(0.8718 1.0000)" d="M3.9 0C6.5 0 7.8 3.2 7.8 8S6.5 16 3.9 16 0 12.8 0 8 1.3 0 3.9 0Z" fill="none" stroke="#111" stroke-width="1" vector-effect="non-scaling-stroke" stroke-linecap="round" stroke-linejoin="round"/>
<line x1="537.4" y1="390.6" x2="537.4" y2="418.7" stroke="#000" stroke-width="1"/>
<line x1="544.1" y1="390.6" x2="544.1" y2="418.7" stroke="#000" stroke-width="1"/>
<line x1="523.8" y1="415.4" x2="537.4" y2="415.4" stroke="#000" stroke-width="1"/>
<line x1="544.1" y1="415.4" x2="573.5" y2="415.4" stroke="#000" stroke-width="1"/>
<path d="M537.4 415.4 L530.9 416.5 L530.9 414.3 Z" fill="#000"/>
<path d="M544.1 415.4 L550.6 414.3 L550.6 416.5 Z" fill="#000"/>
<path transform="translate(560 398) scale(0.8718 1.0000)" d="M3.9 0C6.5 0 7.8 3.2 7.8 8S6.5 16 3.9 16 0 12.8 0 8 1.3 0 3.9 0Z" fill="none" stroke="#111" stroke-width="1" vector-effect="non-scaling-stroke" stroke-linecap="round" stroke-linejoin="round"/>
<circle cx="571.4" cy="413.5" r="0.75" fill="#111" opacity="0.7"/>
<path transform="translate(576.2 398) scale(0.8837 1.0000)" d="M4.3 0C6.3 0 7.9 1.7 7.9 3.8S6.3 7.6 4.3 7.6 0.7 5.9 0.7 3.8 2.3 0 4.3 0ZM4.3 7.6C6.7 7.6 8.6 9.5 8.6 11.8S6.7 16 4.3 16 0 14.1 0 11.8 1.9 7.6 4.3 7.6Z" fill="none" stroke="#111" stroke-width="1" vector-effect="non-scaling-stroke" stroke-linecap="round" stroke-linejoin="round"/>
</svg>
</body></html>
